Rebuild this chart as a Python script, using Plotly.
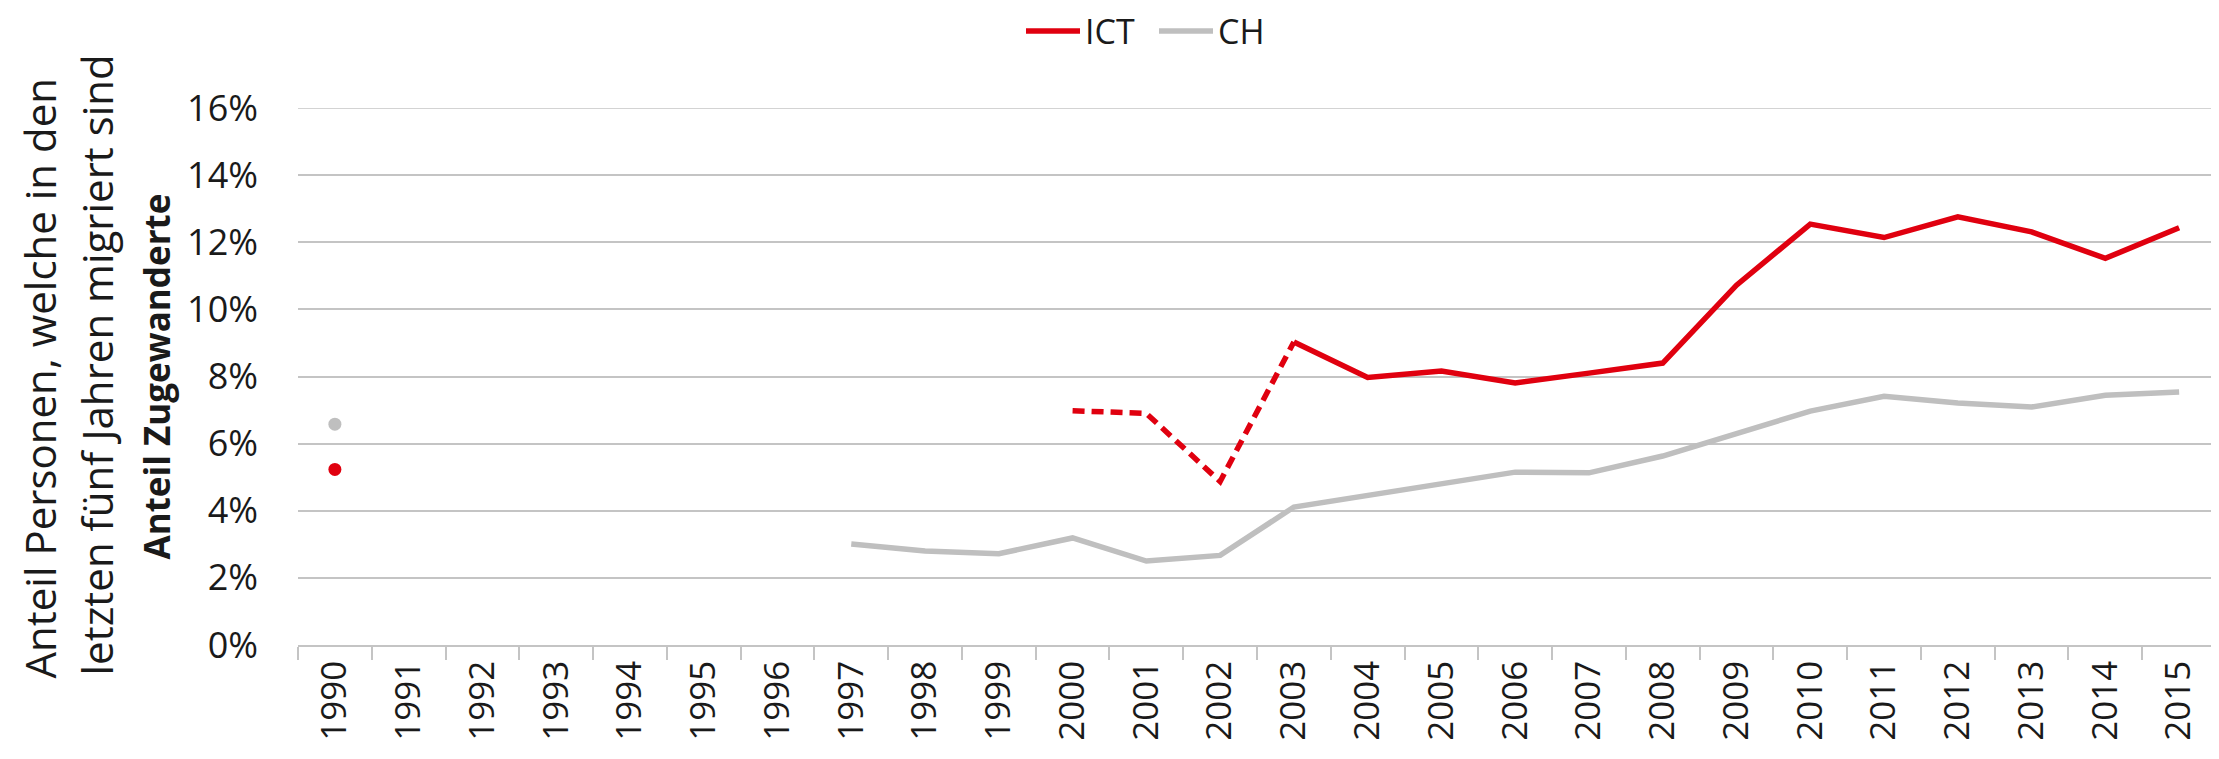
import plotly.graph_objects as go

# ---- data ----
years = [str(y) for y in range(1990, 2016)]

ict_1990 = 5.23
ch_1990 = 6.58

ict_dashed_years = ["2000", "2001", "2002", "2003"]
ict_dashed_values = [6.98, 6.90, 4.87, 9.03]

ict_years = [str(y) for y in range(2003, 2016)]
ict_values = [9.03, 7.97, 8.16, 7.81, 8.10, 8.40, 10.72, 12.54, 12.14, 12.76, 12.31, 11.52, 12.43]

ch_years = [str(y) for y in range(1997, 2016)]
ch_values = [3.01, 2.80, 2.72, 3.19, 2.50, 2.67, 4.11, 4.46, 4.81, 5.15, 5.13, 5.63,
             6.30, 6.97, 7.41, 7.21, 7.09, 7.44, 7.54]

y_ticks = [0, 2, 4, 6, 8, 10, 12, 14, 16]
y_tick_labels = [f"{v}%" for v in y_ticks]

title_outer_1 = "Anteil Personen, welche in den"
title_outer_2 = "letzten fünf Jahren migriert sind"
title_inner = "<b>Anteil Zugewanderte</b>"
legend_names = ["ICT", "CH"]

# ---- style ----
RED = "#E0000F"
GRAY = "#BFBFBF"
GRID = "#C4C4C4"
FONT = "Open Sans"
TXT = "#1a1a1a"
OFF = 8  # page body margin
W, H = 2219 - OFF, 759 - OFF
L, R, T, B = 290, 3, 100, 114
PW = W - L - R
PH = H - T - B
LW = 5.5
LEG_Y = 31


def px_x(px):
    return (px - OFF - L) / PW


def px_y(py):
    return (H - B - (py - OFF)) / PH


fig = go.Figure()

fig.add_trace(go.Scatter(x=ch_years, y=ch_values, mode="lines",
                         line=dict(color=GRAY, width=LW), name="CH", showlegend=False))
fig.add_trace(go.Scatter(x=ict_dashed_years, y=ict_dashed_values, mode="lines",
                         line=dict(color=RED, width=LW, dash="12px,7px"),
                         name="ICT", showlegend=False))
fig.add_trace(go.Scatter(x=ict_years, y=ict_values, mode="lines",
                         line=dict(color=RED, width=LW), name="ICT", showlegend=False))
fig.add_trace(go.Scatter(x=[years[0]], y=[ch_1990], mode="markers",
                         marker=dict(color=GRAY, size=13), showlegend=False))
fig.add_trace(go.Scatter(x=[years[0]], y=[ict_1990], mode="markers",
                         marker=dict(color=RED, size=13), showlegend=False))

fig.update_xaxes(
    type="category", categoryorder="array", categoryarray=years,
    range=[-0.5, len(years) - 0.5],
    tickvals=years, ticktext=years,
    tickangle=-90, tickson="boundaries",
    ticks="outside", ticklen=13, tickcolor=GRID, tickwidth=1.5,
    showline=True, linecolor=GRID, linewidth=1.5,
    showgrid=False, zeroline=False, automargin=False,
    tickfont=dict(family=FONT, size=35, color=TXT),
    ticklabelstandoff=0,
)
fig.update_yaxes(
    range=[0, 16], tickvals=y_ticks, ticktext=y_tick_labels,
    showgrid=True, gridcolor=GRID, gridwidth=1.5,
    zeroline=False, showline=False, ticks="", automargin=False,
    tickfont=dict(family=FONT, size=36, color=TXT),
    ticklabelstandoff=39,
)

annotations = [
    dict(text=title_outer_1, x=px_x(39), y=px_y(681), yanchor="bottom", textangle=-90,
         font=dict(family=FONT, size=42, color=TXT)),
    dict(text=title_outer_2, x=px_x(96), y=px_y(678), yanchor="bottom", textangle=-90,
         font=dict(family=FONT, size=42, color=TXT)),
    dict(text=title_inner, x=px_x(156), y=px_y(376.5), textangle=-90,
         font=dict(family=FONT, size=35, color=TXT)),
    dict(text=legend_names[0], x=px_x(1083), y=px_y(LEG_Y), xanchor="left",
         font=dict(family=FONT, size=34, color=TXT)),
    dict(text=legend_names[1], x=px_x(1216), y=px_y(LEG_Y), xanchor="left",
         font=dict(family=FONT, size=34, color=TXT)),
]
for a in annotations:
    a.update(xref="paper", yref="paper", showarrow=False)
    a.setdefault("xanchor", "center")
    a.setdefault("yanchor", "middle")

shapes = [
    # top gridline at 16% (at the plot edge)
    dict(type="line", xref="paper", yref="y", x0=0, x1=1, y0=y_ticks[-1], y1=y_ticks[-1],
         line=dict(color=GRID, width=1.5), layer="below"),
    dict(type="line", xref="paper", yref="paper", x0=px_x(1026), x1=px_x(1080),
         y0=px_y(LEG_Y), y1=px_y(LEG_Y), line=dict(color=RED, width=LW)),
    dict(type="line", xref="paper", yref="paper", x0=px_x(1159), x1=px_x(1213),
         y0=px_y(LEG_Y), y1=px_y(LEG_Y), line=dict(color=GRAY, width=LW)),
]

fig.update_layout(
    width=W, height=H, autosize=False,
    margin=dict(l=L, r=R, t=T, b=B, pad=0, autoexpand=False),
    paper_bgcolor="white", plot_bgcolor="white",
    showlegend=False,
    annotations=annotations, shapes=shapes,
    font=dict(family=FONT),
)

fig.write_html("out.html")
